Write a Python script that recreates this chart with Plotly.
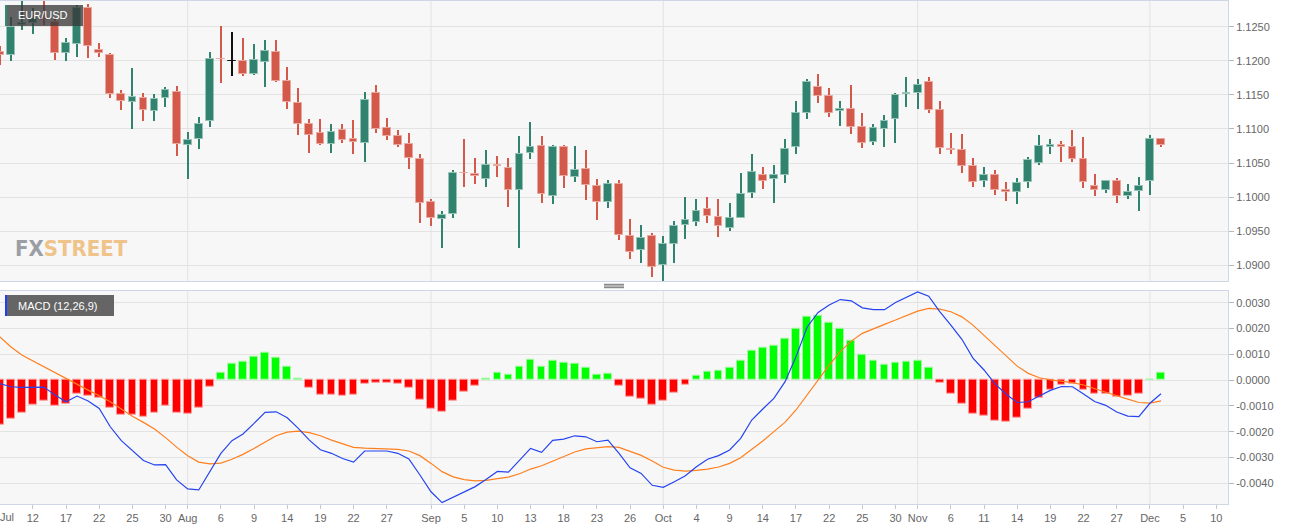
import plotly.graph_objects as go

# ---------------- data ----------------
dates = (
    ["2019-07-%02d" % d for d in [9, 10, 11, 12, 15, 16, 17, 18, 19, 22, 23, 24, 25, 26, 29, 30, 31]]
    + ["2019-08-%02d" % d for d in [1, 2, 5, 6, 7, 8, 9, 12, 13, 14, 15, 16, 19, 20, 21, 22, 23, 26, 27, 28, 29, 30]]
    + ["2019-09-%02d" % d for d in [2, 3, 4, 5, 6, 9, 10, 11, 12, 13, 16, 17, 18, 19, 20, 23, 24, 25, 26, 27, 30]]
    + ["2019-10-%02d" % d for d in [1, 2, 3, 4, 7, 8, 9, 10, 11, 14, 15, 16, 17, 18, 21, 22, 23, 24, 25, 28, 29, 30, 31]]
    + ["2019-11-%02d" % d for d in [1, 4, 5, 6, 7, 8, 11, 12, 13, 14, 15, 18, 19, 20, 21, 22, 25, 26, 27, 28, 29]]
    + ["2019-12-02", "2019-12-03"]
)
future_days = ["2019-12-04", "2019-12-05", "2019-12-06", "2019-12-09", "2019-12-10", "2019-12-11"]

opens = [1.1213, 1.1208, 1.1252, 1.1255, 1.1262, 1.1257, 1.1211, 1.1225, 1.1277, 1.1216,
         1.1209, 1.1151, 1.1140, 1.1146, 1.1126, 1.1145, 1.1154, 1.1076, 1.1085, 1.1112,
         1.1203, 1.1199, 1.1199, 1.1180, 1.1198, 1.1213, 1.1171, 1.1138, 1.1107, 1.1094,
         1.1078, 1.1099, 1.1086, 1.1080, 1.1152, 1.1102, 1.1090, 1.1078, 1.1056, 1.0993,
         1.0968, 1.0975, 1.1036, 1.1034, 1.1027, 1.1047, 1.1043, 1.1011, 1.1065, 1.1075,
         1.1002, 1.1073, 1.1030, 1.1041, 1.1017, 1.0993, 1.1019, 1.0943, 1.0922, 1.0943,
         1.0900, 1.0931, 1.0959, 1.0964, 1.0982, 1.0971, 1.0955, 1.0969, 1.1006, 1.1033,
         1.1027, 1.1032, 1.1073, 1.1124, 1.1161, 1.1149, 1.1127, 1.1129, 1.1103, 1.1081,
         1.1100, 1.1114, 1.1151, 1.1153, 1.1169, 1.1128, 1.1071, 1.1069, 1.1046, 1.1024,
         1.1033, 1.1011, 1.1008, 1.1022, 1.1050, 1.1074, 1.1077, 1.1074, 1.1056, 1.1016,
         1.1011, 1.1024, 1.1001, 1.1009, 1.1024, 1.1085]
highs = [1.1221, 1.1264, 1.1287, 1.1277, 1.1287, 1.1262, 1.1233, 1.1282, 1.1283, 1.1226,
         1.1211, 1.1157, 1.1189, 1.1152, 1.1151, 1.1161, 1.1163, 1.1096, 1.1117, 1.1213,
         1.1251, 1.1242, 1.1233, 1.1224, 1.1231, 1.1230, 1.1191, 1.1160, 1.1115, 1.1115,
         1.1108, 1.1108, 1.1113, 1.1154, 1.1165, 1.1116, 1.1099, 1.1094, 1.1063, 1.0997,
         1.0980, 1.1040, 1.1085, 1.1057, 1.1069, 1.1060, 1.1057, 1.1089, 1.1110, 1.1089,
         1.1076, 1.1076, 1.1075, 1.1069, 1.1026, 1.1025, 1.1025, 1.0968, 1.0959, 1.0948,
         1.0943, 1.0965, 1.1000, 1.0998, 1.1000, 1.0997, 1.0991, 1.1035, 1.1063, 1.1044,
         1.1047, 1.1086, 1.1141, 1.1173, 1.1181, 1.1160, 1.1141, 1.1164, 1.1124, 1.1107,
         1.1120, 1.1153, 1.1176, 1.1173, 1.1176, 1.1141, 1.1094, 1.1092, 1.1057, 1.1044,
         1.1040, 1.1022, 1.1028, 1.1059, 1.1091, 1.1085, 1.1082, 1.1099, 1.1088, 1.1034,
         1.1025, 1.1028, 1.1019, 1.1029, 1.1091, 1.1087]
lows = [1.1194, 1.1200, 1.1245, 1.1239, 1.1252, 1.1201, 1.1199, 1.1205, 1.1204, 1.1206,
        1.1145, 1.1128, 1.1100, 1.1112, 1.1112, 1.1132, 1.1060, 1.1026, 1.1070, 1.1103,
        1.1167, 1.1178, 1.1177, 1.1179, 1.1162, 1.1169, 1.1130, 1.1091, 1.1065, 1.1077,
        1.1065, 1.1080, 1.1063, 1.1051, 1.1094, 1.1084, 1.1073, 1.1042, 1.0962, 1.0958,
        1.0925, 1.0969, 1.1015, 1.1020, 1.1015, 1.1030, 1.0985, 1.0926, 1.1056, 1.0992,
        1.0990, 1.1013, 1.1022, 1.0996, 1.0966, 1.0984, 1.0937, 1.0909, 1.0904, 1.0883,
        1.0877, 1.0904, 1.0939, 1.0957, 1.0962, 1.0941, 1.0950, 1.0969, 1.0999, 1.1012,
        1.0991, 1.1021, 1.1064, 1.1114, 1.1138, 1.1117, 1.1105, 1.1092, 1.1072, 1.1076,
        1.1073, 1.1080, 1.1132, 1.1129, 1.1124, 1.1063, 1.1064, 1.1035, 1.1015, 1.1015,
        1.1003, 1.0995, 1.0990, 1.1014, 1.1047, 1.1063, 1.1052, 1.1052, 1.1014, 1.1002,
        1.1006, 1.0991, 1.0997, 1.0980, 1.1003, 1.1074]
closes = [1.1209, 1.1250, 1.1255, 1.1262, 1.1260, 1.1211, 1.1226, 1.1278, 1.1222, 1.1211,
          1.1151, 1.1141, 1.1147, 1.1128, 1.1144, 1.1157, 1.1078, 1.1084, 1.1108, 1.1203,
          1.1202, 1.1199, 1.1180, 1.1201, 1.1215, 1.1171, 1.1139, 1.1108, 1.1091, 1.1078,
          1.1096, 1.1084, 1.1081, 1.1143, 1.1100, 1.1090, 1.1077, 1.1057, 1.0992, 1.0970,
          1.0974, 1.1036, 1.1035, 1.1031, 1.1047, 1.1045, 1.1010, 1.1063, 1.1074, 1.1004,
          1.1074, 1.1031, 1.1040, 1.1018, 1.0993, 1.1020, 1.0944, 1.0920, 1.0940, 1.0898,
          1.0932, 1.0958, 1.0966, 1.0980, 1.0972, 1.0957, 1.0970, 1.1005, 1.1037, 1.1024,
          1.1033, 1.1071, 1.1123, 1.1169, 1.1149, 1.1124, 1.1130, 1.1103, 1.1080, 1.1101,
          1.1112, 1.1150, 1.1153, 1.1165, 1.1128, 1.1072, 1.1069, 1.1046, 1.1022, 1.1033,
          1.1011, 1.1008, 1.1021, 1.1055, 1.1075, 1.1077, 1.1074, 1.1056, 1.1022, 1.1011,
          1.1024, 1.1001, 1.1008, 1.1016, 1.1085, 1.1076]

macd = [-0.00013, -0.00026, -0.00028, -0.00028, -0.00027, -0.00058, -0.00084, -0.00062, -0.00081, -0.00110,
        -0.00181, -0.00235, -0.00274, -0.00312, -0.00329, -0.00328, -0.00387, -0.00422, -0.00426, -0.00355,
        -0.00284, -0.00235, -0.00209, -0.00168, -0.00125, -0.00123, -0.00146, -0.00187, -0.00233, -0.00270,
        -0.00284, -0.00304, -0.00318, -0.00275, -0.00274, -0.00275, -0.00284, -0.00306, -0.00368, -0.00433,
        -0.00475, -0.00455, -0.00433, -0.00413, -0.00384, -0.00354, -0.00357, -0.00310, -0.00265, -0.00280,
        -0.00234, -0.00229, -0.00216, -0.00220, -0.00239, -0.00233, -0.00284, -0.00340, -0.00362, -0.00408,
        -0.00416, -0.00394, -0.00371, -0.00336, -0.00307, -0.00293, -0.00271, -0.00226, -0.00155, -0.00112,
        -0.00071, -0.00007, 0.00090, 0.00205, 0.00262, 0.00291, 0.00312, 0.00307, 0.00280, 0.00273,
        0.00273, 0.00301, 0.00320, 0.00342, 0.00325, 0.00265, 0.00213, 0.00158, 0.00085, 0.00039,
        -0.00015, -0.00055, -0.00087, -0.00084, -0.00062, -0.00040, -0.00025, -0.00026, -0.00054, -0.00083,
        -0.00098, -0.00124, -0.00140, -0.00142, -0.00090, -0.00053]
signal = [0.00168, 0.00129, 0.00097, 0.00074, 0.00053, 0.00030, 0.00004, -0.00016, -0.00039, -0.00061,
          -0.00084, -0.00112, -0.00140, -0.00164, -0.00190, -0.00223, -0.00260, -0.00293, -0.00318, -0.00325,
          -0.00322, -0.00307, -0.00288, -0.00265, -0.00239, -0.00216, -0.00202, -0.00198, -0.00204, -0.00216,
          -0.00233, -0.00247, -0.00261, -0.00264, -0.00265, -0.00266, -0.00269, -0.00275, -0.00293, -0.00323,
          -0.00355, -0.00375, -0.00386, -0.00391, -0.00389, -0.00382, -0.00376, -0.00363, -0.00345, -0.00332,
          -0.00314, -0.00296, -0.00279, -0.00267, -0.00262, -0.00258, -0.00261, -0.00276, -0.00292, -0.00314,
          -0.00338, -0.00349, -0.00353, -0.00350, -0.00345, -0.00337, -0.00323, -0.00301, -0.00269, -0.00236,
          -0.00200, -0.00164, -0.00116, -0.00058, 0.00000, 0.00058, 0.00110, 0.00151, 0.00181, 0.00200,
          0.00216, 0.00233, 0.00249, 0.00267, 0.00278, 0.00275, 0.00265, 0.00245, 0.00213, 0.00174,
          0.00136, 0.00094, 0.00054, 0.00026, 0.00009, 0.00001, -0.00004, -0.00010, -0.00019, -0.00032,
          -0.00045, -0.00061, -0.00074, -0.00087, -0.00089, -0.00081]
hist = [-0.00172, -0.00151, -0.00127, -0.00097, -0.00081, -0.00098, -0.00093, -0.00053, -0.00061, -0.00068,
        -0.00107, -0.00134, -0.00136, -0.00143, -0.00127, -0.00099, -0.00127, -0.00130, -0.00107, -0.00025,
        0.00030, 0.00065, 0.00072, 0.00090, 0.00107, 0.00088, 0.00050, 0.00007, -0.00028, -0.00055,
        -0.00055, -0.00061, -0.00058, -0.00013, -0.00009, -0.00009, -0.00016, -0.00028, -0.00075, -0.00110,
        -0.00123, -0.00080, -0.00047, -0.00022, 0.00007, 0.00027, 0.00019, 0.00052, 0.00079, 0.00050,
        0.00076, 0.00066, 0.00063, 0.00047, 0.00021, 0.00023, -0.00022, -0.00063, -0.00071, -0.00094,
        -0.00080, -0.00048, -0.00017, 0.00016, 0.00032, 0.00035, 0.00047, 0.00076, 0.00114, 0.00127,
        0.00134, 0.00159, 0.00200, 0.00247, 0.00251, 0.00222, 0.00199, 0.00154, 0.00099, 0.00074,
        0.00058, 0.00068, 0.00071, 0.00074, 0.00047, -0.00012, -0.00052, -0.00091, -0.00129, -0.00140,
        -0.00156, -0.00161, -0.00147, -0.00110, -0.00070, -0.00039, -0.00019, -0.00016, -0.00036, -0.00054,
        -0.00053, -0.00065, -0.00062, -0.00052, 0.00001, 0.00027]

tick_dates = ["2019-07-12", "2019-07-17", "2019-07-22", "2019-07-25", "2019-07-30",
              "2019-08-01", "2019-08-06", "2019-08-09", "2019-08-14", "2019-08-19", "2019-08-22", "2019-08-27",
              "2019-09-02", "2019-09-05", "2019-09-10", "2019-09-13", "2019-09-18", "2019-09-23", "2019-09-26",
              "2019-10-01", "2019-10-04", "2019-10-09", "2019-10-14", "2019-10-17", "2019-10-22", "2019-10-25",
              "2019-10-30", "2019-11-01", "2019-11-06", "2019-11-11", "2019-11-14", "2019-11-19", "2019-11-22",
              "2019-11-27", "2019-12-02", "2019-12-05", "2019-12-10"]
tick_text = ["12", "17", "22", "25", "30",
             "Aug", "6", "9", "14", "19", "22", "27",
             "Sep", "5", "10", "13", "18", "23", "26",
             "Oct", "4", "9", "14", "17", "22", "25",
             "30", "Nov", "6", "11", "14", "19", "22",
             "27", "Dec", "5", "10"]
first_month_label = "Jul"
month_starts = ["2019-08-01", "2019-09-02", "2019-10-01", "2019-11-01", "2019-12-02"]
price_ticks = [1.0900, 1.0950, 1.1000, 1.1050, 1.1100, 1.1150, 1.1200, 1.1250]
price_tick_text = ["1.0900", "1.0950", "1.1000", "1.1050", "1.1100", "1.1150", "1.1200", "1.1250"]
macd_ticks = [-0.0040, -0.0030, -0.0020, -0.0010, 0.0000, 0.0010, 0.0020, 0.0030]
macd_tick_text = ["-0.0040", "-0.0030", "-0.0020", "-0.0010", "0.0000", "0.0010", "0.0020", "0.0030"]

# ---------------- styles ----------------
UP, DOWN, FLAT = "#31826e", "#d35a4a", "#111111"
UP_EDGE, DOWN_EDGE = "#93c3b5", "#eaa79e"
GRID = "#e3e3e3"
BORDER = "#cfd6e6"
TXT = "#666666"
FONT = "Liberation Sans, Arial, sans-serif"

W, H = 1299, 530
ML, MR, MT, MB = 0, 71, 1, 26
PW, PH = W - ML - MR, H - MT - MB


def px(xp):
    return (xp - ML) / PW


def py(yp):
    return (H - MB - yp) / PH


axis_days = dates + future_days
pos = {d: i for i, d in enumerate(axis_days)}
xs = [pos[d] for d in dates]

col, edge, body_base, body_h, wick_h = [], [], [], [], []
for o, h, l, c in zip(opens, highs, lows, closes):
    if c > o:
        col.append(UP); edge.append(UP_EDGE)
    elif c < o:
        col.append(DOWN); edge.append(DOWN_EDGE)
    else:
        col.append(FLAT); edge.append(FLAT)
    body_base.append(min(o, c))
    body_h.append(max(abs(c - o), 0.00005))
    wick_h.append(h - l)

hcol = ["#00ff00" if v >= 0 else "#ff0000" for v in hist]
hedge = ["#a6f7a6" if v >= 0 else "#ff9c9c" for v in hist]

fig = go.Figure()
fig.add_trace(go.Bar(x=xs, y=wick_h, base=lows, width=0.11, marker=dict(color=col, line=dict(width=0)),
                     xaxis="x", yaxis="y", hoverinfo="skip"))
fig.add_trace(go.Bar(x=xs, y=body_h, base=body_base, width=0.7,
                     marker=dict(color=col, line=dict(color=edge, width=1)), xaxis="x", yaxis="y"))
fig.add_trace(go.Bar(x=xs, y=hist, width=0.7, marker=dict(color=hcol, line=dict(color=hedge, width=1)),
                     xaxis="x2", yaxis="y2"))
fig.add_trace(go.Scatter(x=xs, y=signal, mode="lines", line=dict(color="#ff7f1e", width=1.2),
                         xaxis="x2", yaxis="y2"))
fig.add_trace(go.Scatter(x=xs, y=macd, mode="lines", line=dict(color="#2444f0", width=1.2),
                         xaxis="x2", yaxis="y2"))

top_dom = [py(281), 1.0]
bot_dom = [0.0, py(290.7)]
xr = [0.03, 111.06]

shapes = []
for m in month_starts:
    for xref, yref in (("x", "y domain"), ("x2", "y2 domain")):
        shapes.append(dict(type="line", xref=xref, yref=yref, x0=pos[m], x1=pos[m], y0=0, y1=1,
                           line=dict(color=GRID, width=1), layer="below"))
# label boxes
shapes.append(dict(type="rect", xref="paper", yref="paper", x0=px(5), x1=px(83), y0=py(26), y1=py(5),
                   fillcolor="rgba(58,58,58,0.78)", line=dict(width=0), layer="above"))
shapes.append(dict(type="rect", xref="paper", yref="paper", x0=px(5), x1=px(7), y0=py(26), y1=py(5),
                   fillcolor="#2f8a72", line=dict(width=0), layer="above"))
shapes.append(dict(type="rect", xref="paper", yref="paper", x0=px(5), x1=px(114), y0=py(316), y1=py(295),
                   fillcolor="rgba(88,88,88,0.92)", line=dict(width=0), layer="above"))
shapes.append(dict(type="rect", xref="paper", yref="paper", x0=px(5), x1=px(7), y0=py(316), y1=py(295),
                   fillcolor="#1f3cff", line=dict(width=0), layer="above"))
# splitter handle
for yy in (284.3, 286.0, 287.7):
    shapes.append(dict(type="line", xref="paper", yref="paper", x0=px(604), x1=px(624), y0=py(yy), y1=py(yy),
                       line=dict(color="#6e6e6e", width=1)))

annotations = [
    dict(text="EUR/USD", xref="paper", yref="paper", x=px(16), y=py(15.5), xanchor="left", yanchor="middle",
         showarrow=False, font=dict(family=FONT, size=11, color="white")),
    dict(text="MACD (12,26,9)", xref="paper", yref="paper", x=px(16), y=py(305.5), xanchor="left",
         yanchor="middle", showarrow=False, font=dict(family=FONT, size=11, color="white")),
    dict(text="<b><span style='color:#9b9ea5'>FX</span><span style='color:#f0c38a'>STREET</span></b>",
         xref="paper", yref="paper", x=px(13), y=py(249), xanchor="left", yanchor="middle", showarrow=False,
         font=dict(family="DejaVu Sans Condensed, Liberation Sans Narrow, sans-serif", size=22)),
    dict(text=first_month_label, xref="paper", yref="paper", x=px(7), y=py(517), xanchor="center",
         yanchor="middle", showarrow=False, font=dict(family=FONT, size=11, color=TXT)),
]

common_x = dict(range=xr, showgrid=False, zeroline=False, showline=True, mirror=True, linecolor=BORDER,
                linewidth=1)
common_y = dict(side="right", showgrid=True, gridcolor=GRID, gridwidth=1, zeroline=False, showline=True,
                mirror=True, linecolor=BORDER, linewidth=1, ticks="outside", ticklen=5, tickcolor="#b8b8b8",
                tickfont=dict(family=FONT, size=11, color=TXT), tickmode="array")

fig.update_layout(
    width=W, height=H,
    margin=dict(l=ML, r=MR, t=MT, b=MB),
    paper_bgcolor="white", plot_bgcolor="#f7f7f7",
    barmode="overlay", bargap=0, showlegend=False,
    xaxis=dict(common_x, domain=[0, 1], anchor="y", showticklabels=False, ticks=""),
    xaxis2=dict(common_x, domain=[0, 1], anchor="y2", matches="x", tickmode="array",
                tickvals=[pos[d] for d in tick_dates], ticktext=tick_text, ticks="outside", ticklen=4,
                tickcolor="#c8c8c8", tickfont=dict(family=FONT, size=11, color=TXT)),
    yaxis=dict(common_y, domain=top_dom, range=[1.087703, 1.128764], tickvals=price_ticks,
               ticktext=price_tick_text, anchor="x"),
    yaxis2=dict(common_y, domain=bot_dom, range=[-0.004804, 0.003464], tickvals=macd_ticks,
                ticktext=macd_tick_text, anchor="x2"),
    shapes=shapes, annotations=annotations,
)

fig.write_html("out.html", config={"displayModeBar": False},
               post_script="document.body.style.margin='0px';")
